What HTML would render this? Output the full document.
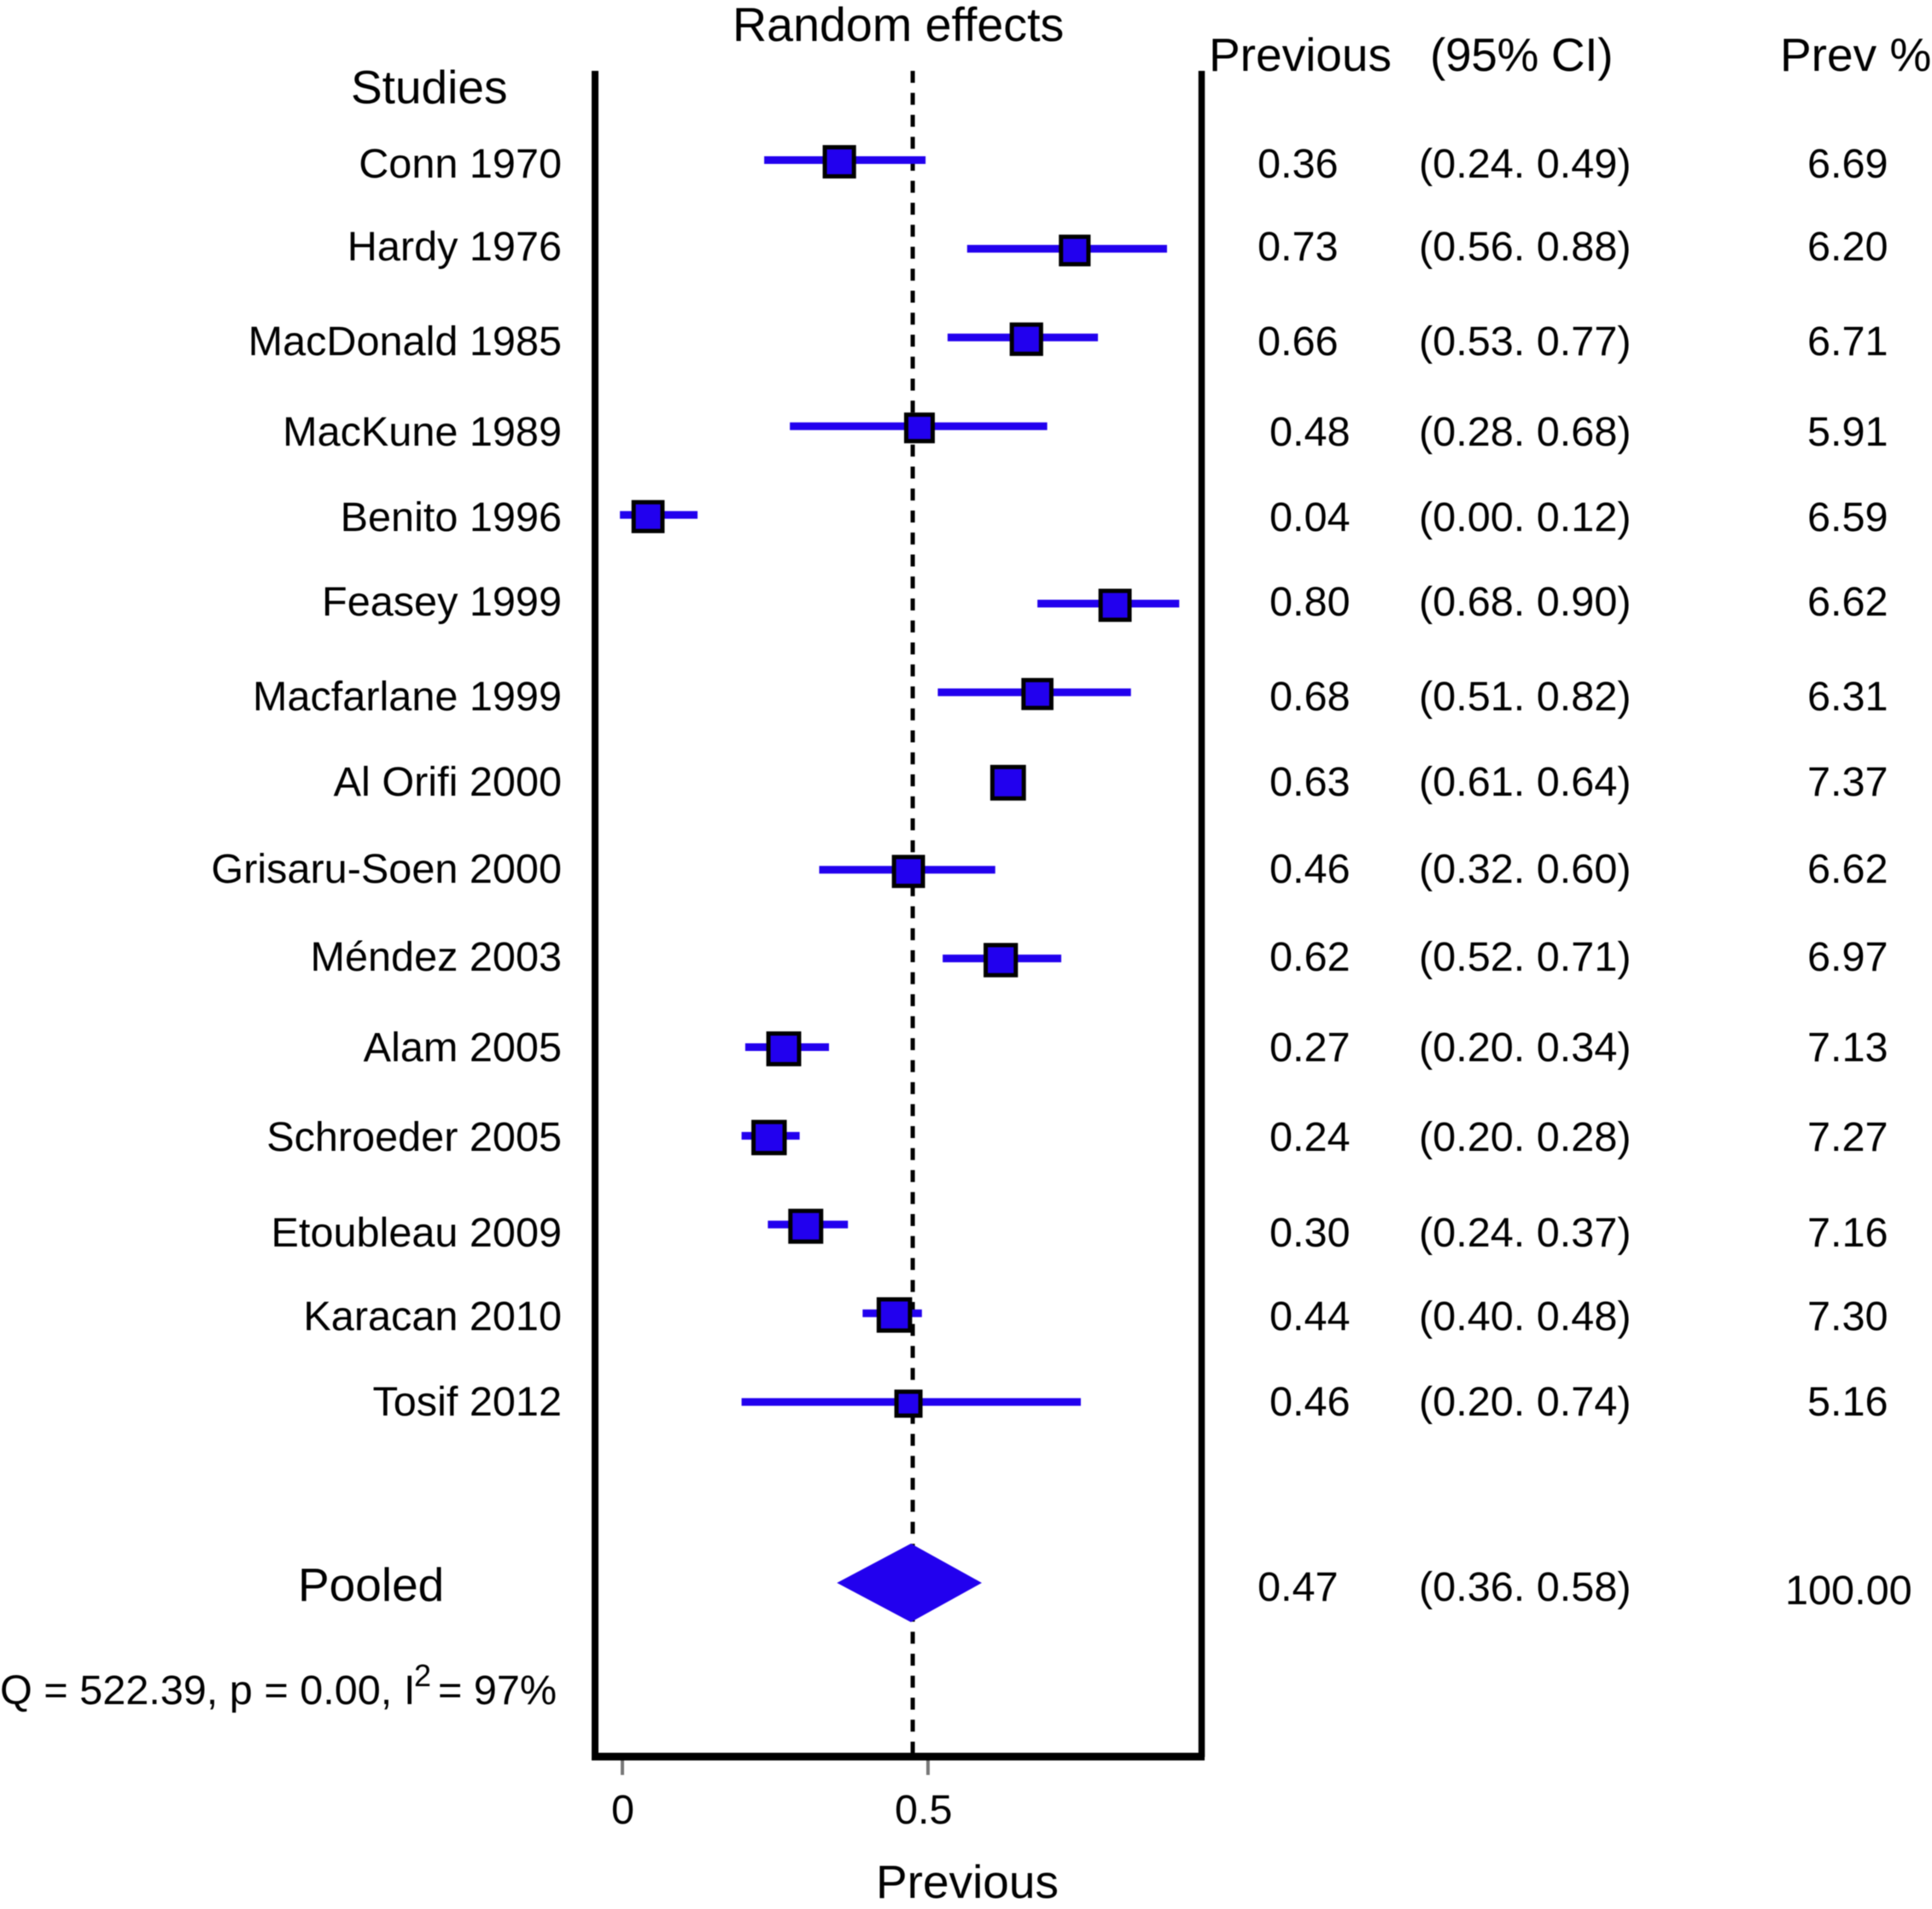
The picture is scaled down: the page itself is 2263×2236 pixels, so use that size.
<!DOCTYPE html>
<html lang="en">
<head>
<meta charset="utf-8">
<title>Forest plot: random effects pooled prevalence</title>
<style>
html,body{margin:0;padding:0;background:#fff;}
svg{display:block;filter:blur(0.5px);}
text{font-family:"Liberation Sans",sans-serif;fill:#000;}
.h{font-size:55px;}
.t{font-size:48.6px;}
.n{text-anchor:end;}
</style>
</head>
<body>
<svg id="chart" xmlns="http://www.w3.org/2000/svg" width="2263" height="2236" viewBox="0 0 2263 2236">
<rect x="0" y="0" width="2263" height="2236" fill="#fff"/>

<text class="h" x="858" y="48" style="font-size:55.6px">Random effects</text>
<text class="h" x="411" y="121">Studies</text>
<text class="h" x="1416" y="83">Previous</text>
<text class="h" x="1675" y="83" style="letter-spacing:-0.35px">(95% CI)</text>
<text class="h" x="2085" y="83">Prev %</text>

<g id="axes"></g>
<g id="marks"></g>

<g>
<text class="t n" x="658" y="208">Conn 1970</text>
<text class="t n" x="658" y="305">Hardy 1976</text>
<text class="t n" x="658" y="416">MacDonald 1985</text>
<text class="t n" x="658" y="522">MacKune 1989</text>
<text class="t n" x="658" y="622">Benito 1996</text>
<text class="t n" x="658" y="721">Feasey 1999</text>
<text class="t n" x="658" y="832">Macfarlane 1999</text>
<text class="t n" x="658" y="932">Al Orifi 2000</text>
<text class="t n" x="658" y="1034">Grisaru-Soen 2000</text>
<text class="t n" x="658" y="1137">Méndez 2003</text>
<text class="t n" x="658" y="1243">Alam 2005</text>
<text class="t n" x="658" y="1348">Schroeder 2005</text>
<text class="t n" x="658" y="1460">Etoubleau 2009</text>
<text class="t n" x="658" y="1558">Karacan 2010</text>
<text class="t n" x="658" y="1658">Tosif 2012</text>
</g>

<g>
<text class="t" x="1473" y="208">0.36</text>
<text class="t" x="1473" y="305">0.73</text>
<text class="t" x="1473" y="416">0.66</text>
<text class="t" x="1487" y="522">0.48</text>
<text class="t" x="1487" y="622">0.04</text>
<text class="t" x="1487" y="721">0.80</text>
<text class="t" x="1487" y="832">0.68</text>
<text class="t" x="1487" y="932">0.63</text>
<text class="t" x="1487" y="1034">0.46</text>
<text class="t" x="1487" y="1137">0.62</text>
<text class="t" x="1487" y="1243">0.27</text>
<text class="t" x="1487" y="1348">0.24</text>
<text class="t" x="1487" y="1460">0.30</text>
<text class="t" x="1487" y="1558">0.44</text>
<text class="t" x="1487" y="1658">0.46</text>
<text class="t" x="1473" y="1875">0.47</text>
</g>

<g>
<text class="t" x="1662" y="208">(0.24. 0.49)</text>
<text class="t" x="1662" y="305">(0.56. 0.88)</text>
<text class="t" x="1662" y="416">(0.53. 0.77)</text>
<text class="t" x="1662" y="522">(0.28. 0.68)</text>
<text class="t" x="1662" y="622">(0.00. 0.12)</text>
<text class="t" x="1662" y="721">(0.68. 0.90)</text>
<text class="t" x="1662" y="832">(0.51. 0.82)</text>
<text class="t" x="1662" y="932">(0.61. 0.64)</text>
<text class="t" x="1662" y="1034">(0.32. 0.60)</text>
<text class="t" x="1662" y="1137">(0.52. 0.71)</text>
<text class="t" x="1662" y="1243">(0.20. 0.34)</text>
<text class="t" x="1662" y="1348">(0.20. 0.28)</text>
<text class="t" x="1662" y="1460">(0.24. 0.37)</text>
<text class="t" x="1662" y="1558">(0.40. 0.48)</text>
<text class="t" x="1662" y="1658">(0.20. 0.74)</text>
<text class="t" x="1662" y="1875">(0.36. 0.58)</text>
</g>

<g>
<text class="t" x="2117" y="208">6.69</text>
<text class="t" x="2117" y="305">6.20</text>
<text class="t" x="2117" y="416">6.71</text>
<text class="t" x="2117" y="522">5.91</text>
<text class="t" x="2117" y="622">6.59</text>
<text class="t" x="2117" y="721">6.62</text>
<text class="t" x="2117" y="832">6.31</text>
<text class="t" x="2117" y="932">7.37</text>
<text class="t" x="2117" y="1034">6.62</text>
<text class="t" x="2117" y="1137">6.97</text>
<text class="t" x="2117" y="1243">7.13</text>
<text class="t" x="2117" y="1348">7.27</text>
<text class="t" x="2117" y="1460">7.16</text>
<text class="t" x="2117" y="1558">7.30</text>
<text class="t" x="2117" y="1658">5.16</text>
<text class="t" x="2091" y="1879">100.00</text>
</g>

<text class="h" x="349" y="1875">Pooled</text>
<text class="t" x="0" y="1996">Q = 522.39, p = 0.00,<tspan x="473">I</tspan><tspan x="485" y="1975" font-size="36">2</tspan><tspan x="513" y="1996">= 97%</tspan></text>

<text class="t" x="716" y="2136">0</text>
<text class="t" x="1048" y="2136">0.5</text>
<text class="h" x="1026" y="2223">Previous</text>
</svg>

<script>
const means = [0.355, 0.740, 0.661, 0.486, 0.042, 0.806, 0.679, 0.631, 0.468, 0.619, 0.264, 0.240, 0.300, 0.445, 0.468];
const lowers = [0.232, 0.564, 0.532, 0.274, -0.004, 0.679, 0.516, 0.610, 0.322, 0.524, 0.201, 0.195, 0.238, 0.393, 0.195];
const uppers = [0.496, 0.891, 0.778, 0.695, 0.123, 0.911, 0.832, 0.640, 0.610, 0.718, 0.338, 0.290, 0.369, 0.490, 0.750];
const weights = [6.69, 6.20, 6.71, 5.91, 6.59, 6.62, 6.31, 7.37, 6.62, 6.97, 7.13, 7.27, 7.16, 7.30, 5.16];
const pooledMean = 0.472;
const pooledLower = 0.351;
const pooledUpper = 0.588;
const referenceValue = 0.475;
const tickValues = [0, 0.5];

const BLUE = '#2200ee';
const NS = 'http://www.w3.org/2000/svg';
const axes = document.getElementById('axes');
const marks = document.getElementById('marks');

function xScale(v) { return 729 + 716 * v; }
function rowY(i) { return 189.5 + 103.9 * i; }
function markerSide(w) { return 33 + (w - 5.16) * 4; }
function make(tag, attrs, parent) {
  const el = document.createElementNS(NS, tag);
  for (const k in attrs) el.setAttribute(k, attrs[k]);
  parent.appendChild(el);
  return el;
}

const leftAxis = make('line', {x1: 697, y1: 83, x2: 697, y2: 2058, stroke: '#000', 'stroke-width': 8}, axes);



const rightAxis = make('line', {x1: 1407.5, y1: 83, x2: 1407.5, y2: 2058, stroke: '#000', 'stroke-width': 7.5}, axes);



const bottomAxis = make('line', {x1: 693, y1: 2057.5, x2: 1411, y2: 2057.5, stroke: '#000', 'stroke-width': 9}, axes);



tickValues.forEach(function (t) {
  const tick = make('line', {x1: xScale(t), y1: 2062, x2: xScale(t), y2: 2079, stroke: '#777', 'stroke-width': 4}, axes);
  
  
});

const refLine = make('line', {x1: xScale(referenceValue), y1: 83, x2: xScale(referenceValue), y2: 2056, stroke: '#000', 'stroke-width': 5, 'stroke-dasharray': '14 11.75'}, axes);



means.forEach(function (m, i) {
  const y = rowY(i);
  const ci = make('line', {x1: xScale(lowers[i]), y1: y - 2, x2: xScale(uppers[i]), y2: y - 2, stroke: BLUE, 'stroke-width': 9}, marks);
  
  

  const s = markerSide(weights[i]);
  const box = make('rect', {x: xScale(m) - s / 2 + 2.5, y: y - s / 2 + 2.5, width: s - 5, height: s - 5, fill: BLUE, stroke: '#000', 'stroke-width': 5}, marks);
  
  
});

const dy = 46;
const cy = 1854;
const diamond = make('polygon', {
  points: [
    [xScale(pooledLower), cy],
    [xScale(pooledMean), cy - dy],
    [xScale(pooledUpper), cy],
    [xScale(pooledMean), cy + dy]
  ].map(function (p) { return p.join(','); }).join(' '),
  fill: BLUE
}, marks);


</script>
</body>
</html>
